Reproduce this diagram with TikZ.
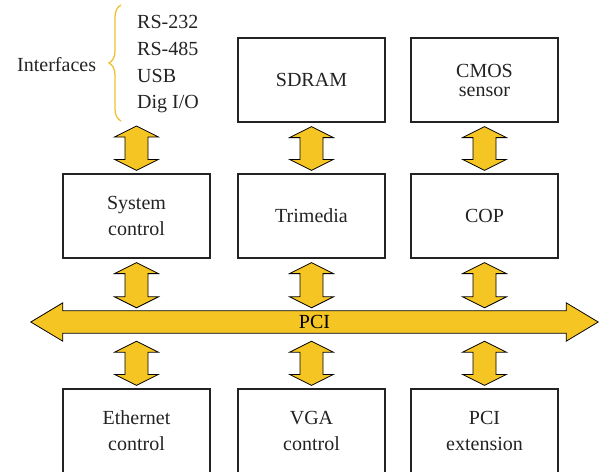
\documentclass[tikz,border=0pt]{standalone}
\usepackage{fontspec}
\setmainfont{Liberation Serif}
\usetikzlibrary{calc,backgrounds,decorations.pathreplacing}
\definecolor{busyellow}{RGB}{245,197,35}
\definecolor{braceyellow}{RGB}{240,192,50}
\definecolor{textgray}{RGB}{35,35,35}
% fat two-headed link, from the lower side of #1 down to the upper side of #2
\newcommand{\vlink}[2]{%
  \draw[bus] let \p1 = (#1), \p2 = (#2) in
    (\x1, \y1-4pt) -- (\x1+22pt, \y1-15pt) -- (\x1+11.5pt, \y1-15pt)
    -- (\x1+11.5pt, \y2+14pt) -- (\x1+22pt, \y2+14pt) -- (\x1, \y2+3pt)
    -- (\x1-22pt, \y2+14pt) -- (\x1-11.5pt, \y2+14pt)
    -- (\x1-11.5pt, \y1-15pt) -- (\x1-22pt, \y1-15pt) -- cycle;}

\begin{document}
\begin{tikzpicture}[x = 1pt, y = -1pt,
  unit/.style = {draw = textgray, line width = 1.2pt, minimum width = 147, minimum height = 84,
    align = center, text = textgray, font = \fontsize{20}{26}\selectfont},
  lbl/.style = {inner sep = 0, text = textgray, font = \fontsize{20}{26}\selectfont},
  bus/.style = {draw = black, fill = busyellow, line width = .8pt, line join = miter}]
\path[use as bounding box, clip] (0,0) rectangle (599,471);
% interfaces
\node[lbl, anchor = base west] (iface) at (17,71) {Interfaces};
\node[lbl, anchor = base west] (rs232) at (137,28) {RS-232};
\node[lbl, anchor = base west] (rs485) at (137,55) {RS-485};
\node[lbl, anchor = base west] (usb) at (137,82) {USB};
\node[lbl, anchor = base west] (digio) at (137,108) {Dig I/O};
\draw[braceyellow, line width = 1.3pt, decorate, decoration = {brace, amplitude = 12pt}] (121,121) -- (121,5);
\coordinate (ifc) at (136.5,122);
% units
\node[unit] (sdram) at (311.5,80) {SDRAM};
\node[unit, font = \fontsize{20}{19}\selectfont] (cmos) at (484.5,80) {CMOS\\sensor};
\node[unit] (sysctl) at (136.5,216) {System\\control};
\node[unit] (trimedia) at (311.5,216) {Trimedia};
\node[unit] (cop) at (484.5,216) {COP};
\node[unit] (eth) at (136.5,431) {Ethernet\\control};
\node[unit] (vga) at (311.5,431) {VGA\\control};
\node[unit] (pciext) at (484.5,431) {PCI\\extension};
% bus
\node[lbl, text = black, minimum width = 503, minimum height = 22] (pci) at (314.5,322) {PCI};
\begin{scope}[on background layer]
\draw[bus] (pci.north west) -- (pci.north east) -- ++(0,-8) -- ($(pci.east)+(32,0)$)
  -- ($(pci.south east)+(0,8)$) -- (pci.south east) -- (pci.south west) -- ++(0,8)
  -- ($(pci.west)+(-32,0)$) -- ($(pci.north west)+(0,-8)$) -- cycle;
\end{scope}
% links
\vlink{ifc}{sysctl.north}
\vlink{sdram.south}{trimedia.north}
\vlink{cmos.south}{cop.north}
\vlink{sysctl.south}{sysctl.south |- pci.north}
\vlink{trimedia.south}{trimedia.south |- pci.north}
\vlink{cop.south}{cop.south |- pci.north}
\vlink{$(eth.north |- pci.south)+(0,4)$}{eth.north}
\vlink{$(vga.north |- pci.south)+(0,4)$}{vga.north}
\vlink{$(pciext.north |- pci.south)+(0,4)$}{pciext.north}
\end{tikzpicture}
\end{document}
